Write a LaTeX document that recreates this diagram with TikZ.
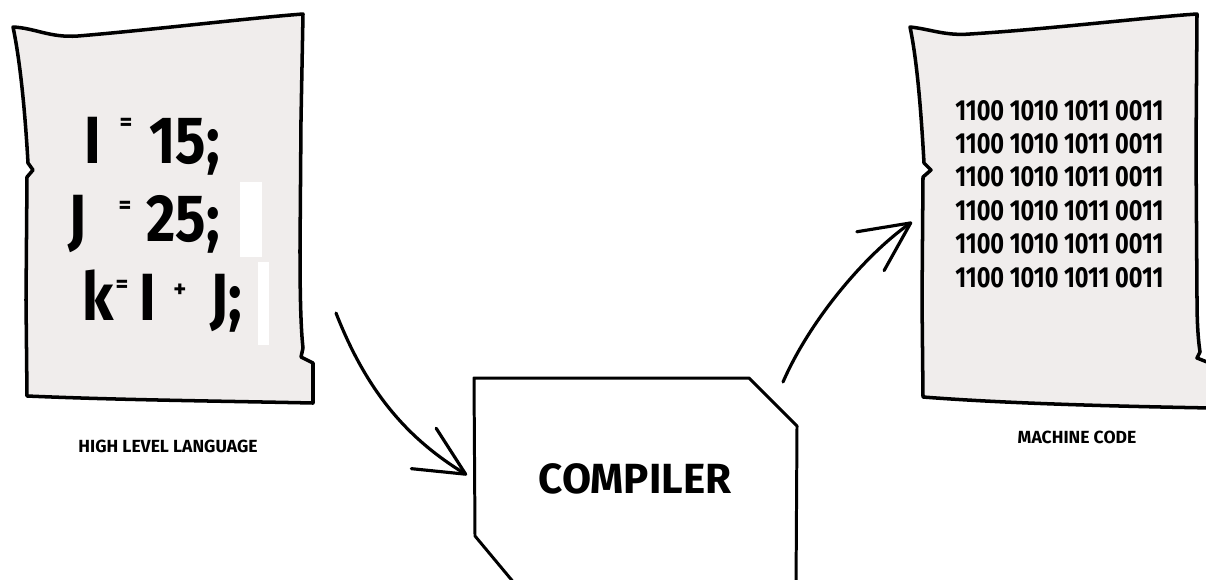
\documentclass[tikz,border=0pt]{standalone}
\usepackage{fontspec}
\setmainfont{Fira Sans}
\newfontfamily\codefont{Fira Sans}[FakeStretch=0.85]
\newfontfamily\bitsfont{Fira Sans}[FakeStretch=0.81]
\usetikzlibrary{arrows.meta}
\definecolor{paper}{RGB}{240,237,236}
\tikzset{
  sheet/.style={draw=black, fill=paper, line width=2pt, line join=round},
  flow/.style={-{Straight Barb[length=28pt,width=27pt,round]}, line width=1.8pt, line cap=round},
  code/.style={font=\codefont\fontsize{38}{38}\selectfont\bfseries, inner sep=0pt},
  codeop/.style={font=\fontsize{14}{14}\selectfont\bfseries, inner sep=0pt},
  bits/.style={font=\bitsfont\fontsize{16.5}{19}\selectfont\bfseries, inner sep=0pt, anchor=base west},
  caption/.style={font=\fontsize{10}{11}\selectfont\bfseries, inner sep=0pt},
  boxtext/.style={font=\fontsize{24}{24}\selectfont\bfseries, inner sep=0pt}
}
\begin{document}
\begin{tikzpicture}[x=0.02cm, y=-0.02cm]
  \clip (0,0) rectangle (1206,579);
  % source sheet
  \draw[sheet] (13,27) .. controls (35,28) and (50,38) .. (78,36)
    .. controls (150,30) and (250,18) .. (303,14)
    -- (301,120) -- (300,250) .. controls (300,300) and (301,330) .. (303,348)
    -- (301,357) -- (313,363) -- (313,403)
    .. controls (220,401) and (120,400) .. (27,396)
    -- (26,300) -- (27,177) -- (33,170) -- (28,163)
    .. controls (25,110) and (20,60) .. (13,27) -- cycle;
  \fill[white] (240,182) rectangle (262,257);
  \fill[white] (258,262) rectangle (269,345);
  % code lines
  \node[code, anchor=base] (i1) at (93,163) {I};
  \node[codeop] (eq1) at (126,124) {=};
  \node[code, anchor=base west] (v1) at (149,163) {15;};
  \node[code, anchor=base west] (j2) at (68,241) {J};
  \node[codeop] (eq2) at (125,207) {=};
  \node[code, anchor=base west] (v2) at (146,241) {25;};
  \node[code, anchor=base west] (k3) at (82,320) {k};
  \node[codeop] (eq3) at (122,286) {=};
  \node[code, anchor=base] (i3) at (148,320) {I};
  \node[codeop] (plus3) at (180,291) {+};
  \node[code, anchor=base west] (j3) at (210,320) {J;};
  \node[caption] (hll) at (168,446) {HIGH LEVEL LANGUAGE};
  % target sheet
  \draw[sheet] (910,27) .. controls (930,29) and (945,36) .. (970,34)
    .. controls (1050,29) and (1150,17) .. (1197,14)
    -- (1196,150) -- (1197,300) .. controls (1197,330) and (1199,345) .. (1200,352)
    -- (1197,358) -- (1212,364) -- (1212,408)
    .. controls (1100,406) and (1000,403) .. (923,397)
    -- (922,300) -- (923,177) -- (931,170) -- (924,163)
    .. controls (921,110) and (917,60) .. (910,27) -- cycle;
  \foreach \r in {0,...,5}
    \node[bits] (bits\r) at (955,120+33.4*\r) {1100 1010 1011 0011};
  \node[caption] (mc) at (1077,437) {MACHINE CODE};
  % compiler
  \draw[line width=1.7pt, line join=round] (474,378) -- (749,378) -- (797,426)
    -- (796,590) -- (520,590) -- (475,536) -- cycle;
  \node[boxtext] (compiler) at (635,479) {COMPILER};
  % arrows
  \coordinate (in0) at (336,313);
  \coordinate (in1) at (467,475);
  \coordinate (out0) at (783,382);
  \coordinate (out1) at (912,222);
  \draw[flow] (in0) .. controls (368,395) and (410,440) .. (in1);
  \draw[flow] (out0) .. controls (810,320) and (865,255) .. (out1);
\end{tikzpicture}
\end{document}
